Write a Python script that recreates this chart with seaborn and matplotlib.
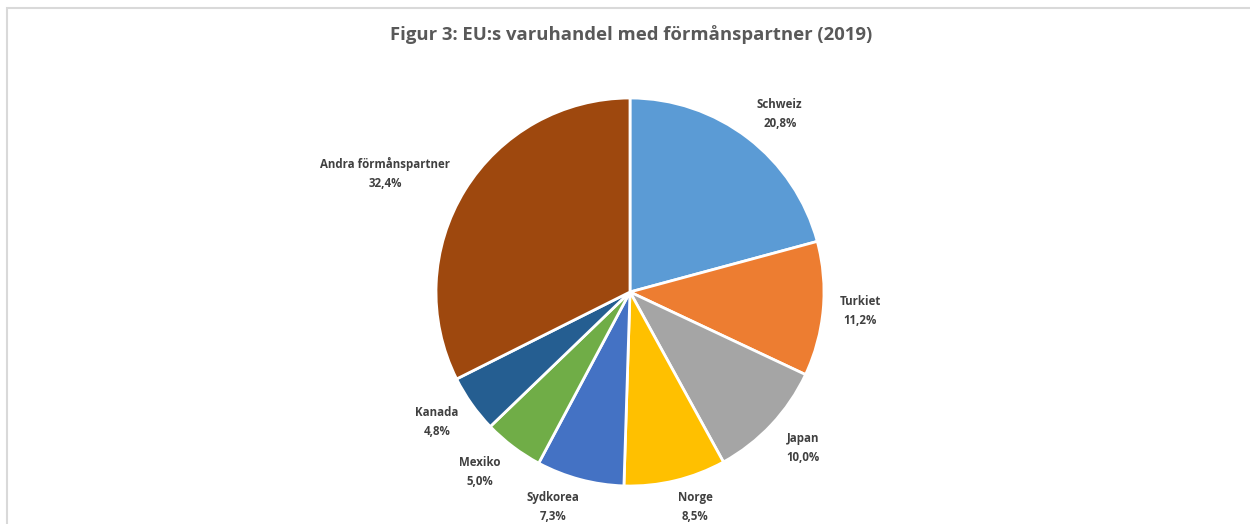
import matplotlib
matplotlib.use("Agg")
import matplotlib.pyplot as plt
import seaborn as sns
import numpy as np
from matplotlib.patches import Rectangle

# --- Data ---
PARTNERS = ["Schweiz", "Turkiet", "Japan", "Norge", "Sydkorea", "Mexiko", "Kanada",
            "Andra förmånspartner"]
SHARES = [20.8, 11.2, 10.0, 8.5, 7.3, 5.0, 4.8, 32.4]
TITLE = "Figur 3: EU:s varuhandel med förmånspartner (2019)"

# --- Style ---
COLORS = ["#5B9BD5", "#ED7D31", "#A5A5A5", "#FFC000", "#4472C4", "#70AD47", "#255E91", "#9E480E"]
# label placement (radius multiple, angle tweak in degrees) - mimics Excel "outside end"
LABEL_DIST = [1.20, 1.19, 1.20, 1.16, 1.18, 1.21, 1.20, 1.40]
LABEL_ANG = [-2.6, 0.3, 1.2, 3.3, -4.8, -2.8, -1.3, 5.9]
TEXT_COLOR = "#404040"

sns.set_theme(style="white")
plt.rcParams["font.family"] = ["Open Sans", "DejaVu Sans"]

W, H = 1250, 524
fig = plt.figure(figsize=(W / 100, H / 100), dpi=100)
ax = fig.add_axes([0, 0, 1, 1])

cx, cy, r = 630, H - 292, 194
wedges, _ = ax.pie(SHARES, colors=COLORS, startangle=90, counterclock=False,
                   center=(cx, cy), radius=r, frame=True,
                   wedgeprops=dict(edgecolor="white", linewidth=2))
ax.set_xlim(0, W)
ax.set_ylim(0, H)
ax.set_aspect("equal")
ax.axis("off")

# chart border (cropped at right/bottom)
ax.add_patch(Rectangle((7, -10), W + 20, H - 8 + 10, fill=False,
                       edgecolor="#d9d9d9", linewidth=1.5))

for w, name, val, d, da in zip(wedges, PARTNERS, SHARES, LABEL_DIST, LABEL_ANG):
    ang = np.deg2rad((w.theta1 + w.theta2) / 2 + da)
    x = cx + d * r * np.cos(ang)
    y = cy + d * r * np.sin(ang)
    ax.text(x, y, f"{name}\n{val:.1f}%".replace(".", ","), ha="center", va="center",
            fontsize=8.3, fontweight="bold", color=TEXT_COLOR, linespacing=1.6)

ax.text(631, H - 35, TITLE, ha="center", va="center", fontsize=13.3,
        fontweight="bold", color="#595959")

fig.savefig("out.png", dpi=100)
